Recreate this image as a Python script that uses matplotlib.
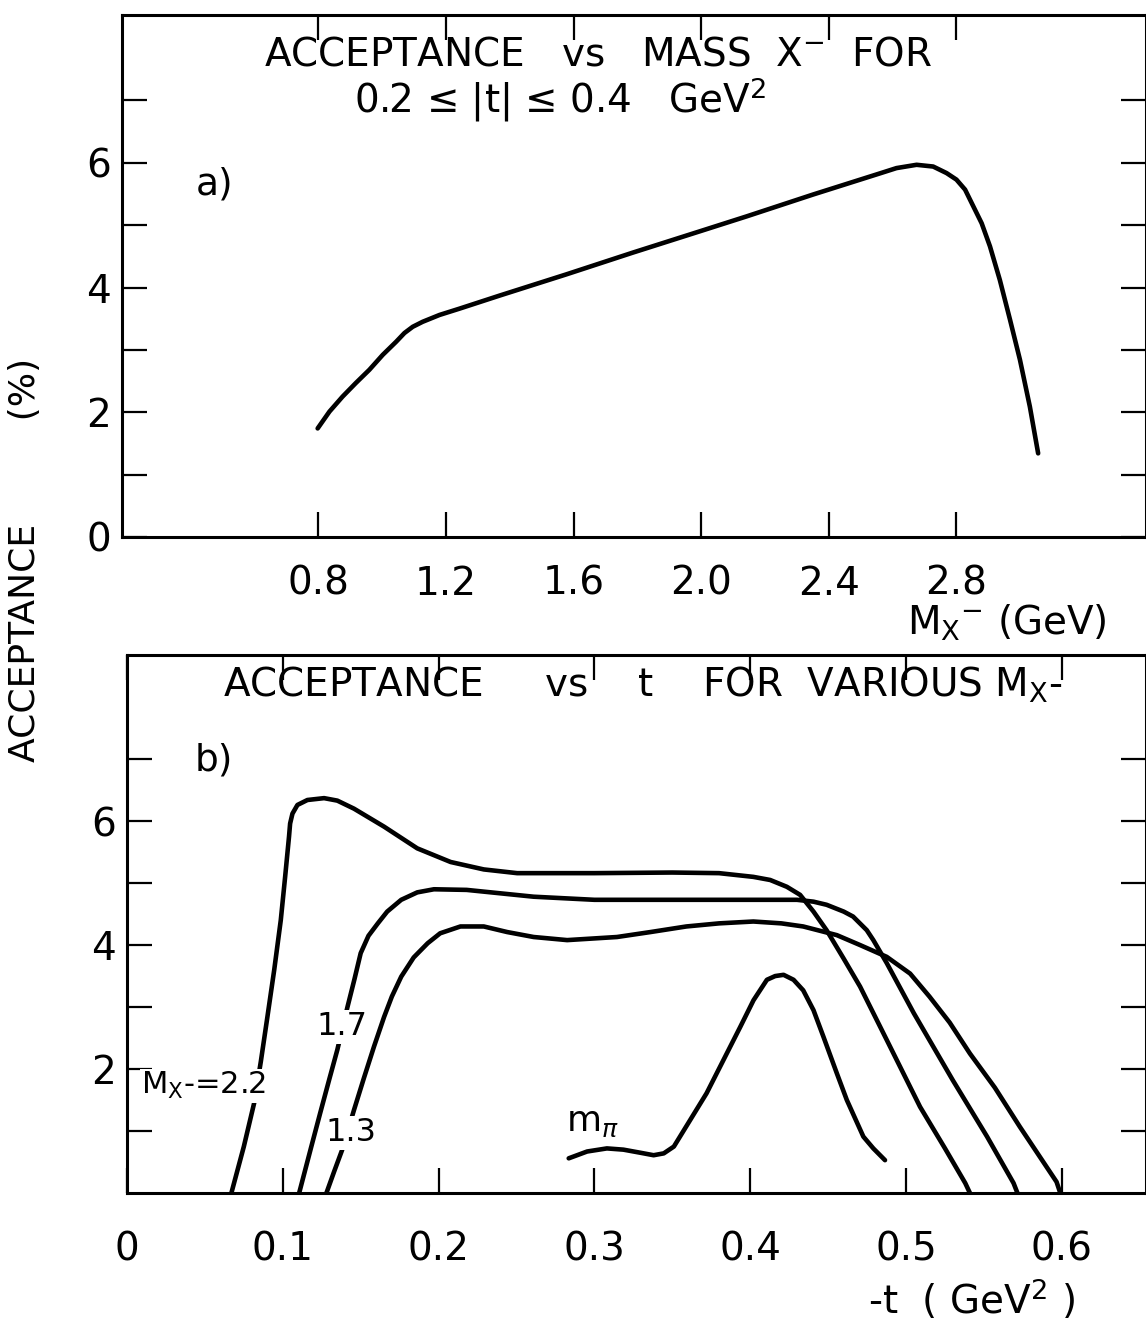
import matplotlib.pyplot as plt

plt.rcParams['font.family'] = ['DejaVu Sans']
plt.rcParams['mathtext.fontset'] = 'dejavusans'
plt.rcParams['mathtext.default'] = 'regular'

# a) acceptance vs mass of X-, 0.2 <= |t| <= 0.4 GeV^2
mass = [0.798, 0.835, 0.876, 0.918, 0.960, 1.002, 1.044, 1.070, 1.096, 1.127,
        1.180, 1.242, 1.368, 1.577, 1.786, 1.995, 2.142, 2.350, 2.560, 2.612,
        2.675, 2.727, 2.769, 2.800, 2.827, 2.853, 2.879, 2.905, 2.936, 2.968,
        2.999, 3.030, 3.056]
acc_mass = [1.74, 2.01, 2.25, 2.47, 2.68, 2.92, 3.13, 3.27, 3.37, 3.45,
            3.56, 3.66, 3.87, 4.21, 4.56, 4.90, 5.14, 5.49, 5.83, 5.915,
            5.968, 5.94, 5.835, 5.73, 5.57, 5.30, 5.03, 4.66, 4.12, 3.48,
            2.84, 2.09, 1.34]

# b) acceptance vs -t for various M_X-
t_22 = [0.067, 0.075, 0.0816, 0.0859, 0.090, 0.0945, 0.0987, 0.1015, 0.104, 0.1047,
        0.1062, 0.1094, 0.1158, 0.1265, 0.135, 0.1457, 0.165, 0.1863, 0.2077, 0.229,
        0.2504, 0.300, 0.350, 0.380, 0.402, 0.4128, 0.4235, 0.432, 0.4406, 0.449,
        0.460, 0.4705, 0.4876, 0.509, 0.525, 0.538, 0.541]
acc_22 = [0.0, 0.75, 1.45, 2.12, 2.82, 3.60, 4.40, 5.10, 5.75, 5.96,
          6.12, 6.26, 6.34, 6.37, 6.33, 6.20, 5.91, 5.56, 5.34, 5.22,
          5.16, 5.16, 5.17, 5.16, 5.10, 5.05, 4.94, 4.81, 4.54, 4.24,
          3.78, 3.33, 2.47, 1.39, 0.72, 0.16, 0.0]

t_17 = [0.1105, 0.118, 0.124, 0.130, 0.135, 0.1415, 0.146, 0.150, 0.155, 0.161,
        0.167, 0.176, 0.1863, 0.197, 0.218, 0.261, 0.300, 0.350, 0.400, 0.430,
        0.4406, 0.449, 0.460, 0.466, 0.4748, 0.479, 0.4876, 0.505, 0.530, 0.552,
        0.569, 0.5715]
acc_17 = [0.0, 0.72, 1.29, 1.85, 2.31, 3.00, 3.45, 3.87, 4.15, 4.35,
          4.54, 4.73, 4.85, 4.90, 4.89, 4.78, 4.73, 4.73, 4.73, 4.73,
          4.70, 4.65, 4.54, 4.46, 4.24, 4.08, 3.71, 2.90, 1.82, 0.91,
          0.16, 0.0]

t_13 = [0.128, 0.133, 0.138, 0.1457, 0.152, 0.1585, 0.165, 0.170, 0.176, 0.184,
        0.193, 0.201, 0.214, 0.229, 0.244, 0.261, 0.2825, 0.3145, 0.336, 0.359,
        0.380, 0.402, 0.420, 0.434, 0.4556, 0.4705, 0.4876, 0.5026, 0.515, 0.528,
        0.541, 0.557, 0.573, 0.5966, 0.599]
acc_13 = [0.0, 0.35, 0.69, 1.34, 1.85, 2.36, 2.84, 3.17, 3.49, 3.80,
          4.03, 4.19, 4.30, 4.30, 4.21, 4.13, 4.08, 4.13, 4.21, 4.30,
          4.35, 4.38, 4.35, 4.30, 4.16, 4.00, 3.81, 3.54, 3.17, 2.75,
          2.25, 1.70, 1.07, 0.18, 0.0]

t_pi = [0.2835, 0.2953, 0.308, 0.3186, 0.3295, 0.338, 0.3445, 0.351, 0.3615, 0.372,
        0.3829, 0.3936, 0.4021, 0.4107, 0.416, 0.4214, 0.4278, 0.434, 0.4406, 0.447,
        0.4556, 0.462, 0.4726, 0.479, 0.4865]
acc_pi = [0.56, 0.67, 0.72, 0.70, 0.65, 0.61, 0.64, 0.75, 1.18, 1.61,
          2.15, 2.68, 3.11, 3.44, 3.50, 3.52, 3.44, 3.27, 2.95, 2.52,
          1.93, 1.50, 0.91, 0.72, 0.53]

mass_ticks = [0.8, 1.2, 1.6, 2.0, 2.4, 2.8]
mass_labels = ['0.8', '1.2', '1.6', '2.0', '2.4', '2.8']
t_ticks = [0, 0.1, 0.2, 0.3, 0.4, 0.5, 0.6]
t_labels = ['0', '0.1', '0.2', '0.3', '0.4', '0.5', '0.6']

lw = 3.3
fs = 28

fig = plt.figure(figsize=(11.46, 13.29), dpi=100)
ax1 = fig.add_axes([0.1065, 0.596, 0.8935, 0.3927])
ax2 = fig.add_axes([0.1108, 0.1023, 0.8892, 0.4049])

for ax in (ax1, ax2):
    for sp in ax.spines.values():
        sp.set_linewidth(2.2)
    ax.tick_params(which='both', direction='in', top=True, right=True,
                   length=18, width=1.6, labelsize=fs)
    ax.tick_params(axis='y', pad=8)

# panel a
ax1.plot(mass, acc_mass, color='black', lw=lw, solid_capstyle='round')
ax1.set_xlim(0.185, 3.394)
ax1.set_ylim(0, 8.37)
ax1.set_xticks(mass_ticks)
ax1.set_xticklabels(mass_labels)
ax1.set_yticks([0, 2, 4, 6])
ax1.set_yticks([1, 3, 5, 7], minor=True)
ax1.tick_params(axis='x', pad=20)
ax1.text(0.465, 0.925, 'ACCEPTANCE   vs   MASS  X$^{-}$  FOR', transform=ax1.transAxes,
         ha='center', va='center', fontsize=28)
ax1.text(0.428, 0.837, '0.2 ≤ |t| ≤ 0.4   GeV$^{2}$', transform=ax1.transAxes,
         ha='center', va='center', fontsize=28)
ax1.text(0.474, 5.65, 'a)', ha='center', va='center', fontsize=27)

# panel b
for tt, aa in ((t_22, acc_22), (t_17, acc_17), (t_13, acc_13), (t_pi, acc_pi)):
    ax2.plot(tt, aa, color='black', lw=lw, solid_capstyle='round')
ax2.set_xlim(0, 0.654)
ax2.set_ylim(0, 8.68)
ax2.set_xticks(t_ticks)
ax2.set_xticklabels(t_labels)
ax2.set_yticks([2, 4, 6])
ax2.set_yticks([1, 3, 5, 7], minor=True)
ax2.tick_params(axis='x', pad=27)
ax2.text(0.506, 0.944, 'ACCEPTANCE     vs    t    FOR  VARIOUS M$_{X}$-',
         transform=ax2.transAxes, ha='center', va='center', fontsize=28)
ax2.text(0.056, 6.98, 'b)', ha='center', va='center', fontsize=27)

box = dict(facecolor='white', edgecolor='none', pad=1)
ax2.text(0.138, 2.68, '1.7', ha='center', va='center', fontsize=23, bbox=box, zorder=3)
ax2.text(0.049, 1.73, 'M$_{X}$-=2.2', ha='center', va='center', fontsize=22, bbox=box, zorder=3)
ax2.text(0.1436, 0.97, '1.3', ha='center', va='center', fontsize=23, bbox=box, zorder=3)
ax2.text(0.2987, 1.15, 'm$_{\\mathit{\\pi}}$', ha='center', va='center', fontsize=26)

fig.text(0.879, 0.531, 'M$_{X}$$^{-}$ (GeV)', ha='center', va='center', fontsize=fs)
fig.text(0.848, 0.022, '-t  ( GeV$^{2}$ )', ha='center', va='center', fontsize=fs)
fig.text(0.022, 0.579, 'ACCEPTANCE         (%)', rotation=90, ha='center', va='center',
         fontsize=26)

fig.savefig('out.png', dpi=100)
